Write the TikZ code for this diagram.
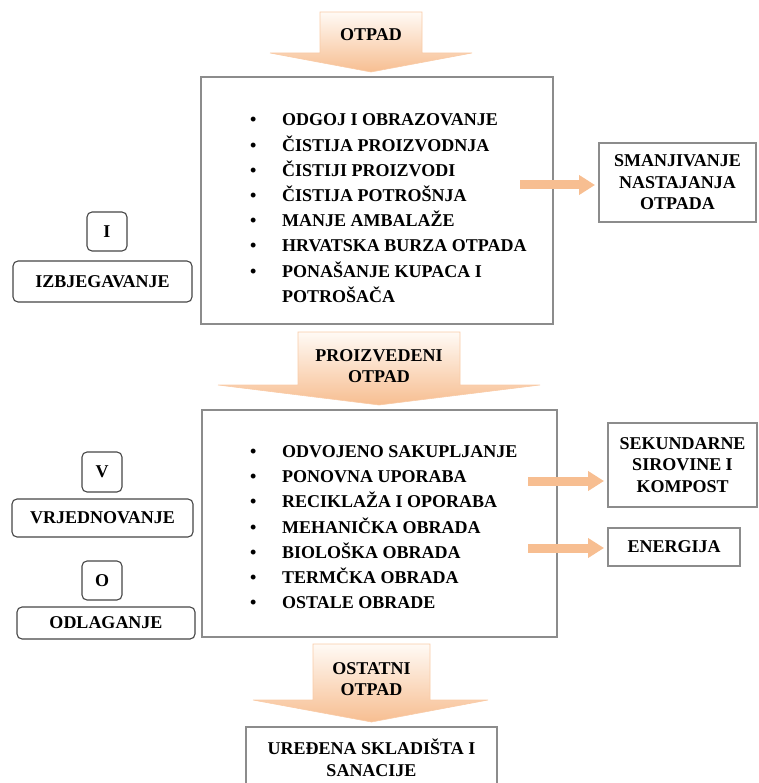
\documentclass[tikz,border=0pt]{standalone}
\usepackage{fontspec}
\setmainfont{Liberation Serif}
\usetikzlibrary{arrows.meta}

\definecolor{peach}{RGB}{247,190,145}
\definecolor{peachlight}{RGB}{255,250,245}
\definecolor{boxgray}{RGB}{140,140,140}
\definecolor{labelgray}{RGB}{70,70,70}

\tikzset{
  mainbox/.style={draw=boxgray, line width=2.2pt, fill=white, inner sep=0pt},
  sidebox/.style={draw=boxgray, line width=2pt, fill=white, align=center, inner sep=0pt},
  tagbox/.style={draw=labelgray, line width=1.1pt, rounded corners=5pt, inner sep=0pt, fill=white},
  callout/.style={top color=peachlight, bottom color=peach, draw=peach!80!white, line width=0.6pt},
  fatarrow/.style={draw=peach, line width=9pt, shorten >=3pt, -{Triangle[length=16pt,width=19pt]}},
  bulletlist/.style={anchor=west, align=left, inner sep=0pt, font=\fontsize{18}{25.2}\selectfont\bfseries},
}

\begin{document}
\begin{tikzpicture}[x=1pt,y=1pt,yscale=-1,xscale=1,
  every node/.append style={font=\fontsize{18}{21.5}\selectfont\bfseries}]
	\useasboundingbox (0,0) rectangle (758,783);
	% callouts
	\shade[callout] (320,12) -- (422,12) -- (422,53) -- (472,53) -- (371,72) -- (270,53) -- (320,53) -- cycle ;
	\node (otpad) at (371,35) {OTPAD};
	\shade[callout] (298,332) -- (460,332) -- (460,385) -- (540,385) -- (379,405) -- (218,385) -- (298,385) -- cycle ;
	\node[align=center] (proizv) at (379,366) {PROIZVEDENI\\OTPAD};
	\shade[callout] (313,644) -- (430,644) -- (430,700) -- (488,700) -- (371.5,722) -- (253,700) -- (313,700) -- cycle ;
	\node[align=center] (ostatni) at (371.5,679) {OSTATNI\\OTPAD};
	% main boxes
	\node[mainbox, minimum width=352pt, minimum height=247pt] (izbj) at (377,200.5) {};
	\node[bulletlist] (list1) at (250,209) {\begin{tabular}{@{}p{32pt}@{}l@{}}
		\textbullet & ODGOJ I OBRAZOVANJE\\
		\textbullet & ČISTIJA PROIZVODNJA\\
		\textbullet & ČISTIJI PROIZVODI\\
		\textbullet & ČISTIJA POTROŠNJA\\
		\textbullet & MANJE AMBALAŽE\\
		\textbullet & HRVATSKA BURZA OTPADA\\
		\textbullet & PONAŠANJE KUPACA I\\
		 & POTROŠAČA
	\end{tabular}};
	\node[mainbox, minimum width=355pt, minimum height=227pt] (vrjed) at (379.5,523.5) {};
	\node[bulletlist] (list2) at (250,528) {\begin{tabular}{@{}p{32pt}@{}l@{}}
		\textbullet & ODVOJENO SAKUPLJANJE\\
		\textbullet & PONOVNA UPORABA\\
		\textbullet & RECIKLAŽA I OPORABA\\
		\textbullet & MEHANIČKA OBRADA\\
		\textbullet & BIOLOŠKA OBRADA\\
		\textbullet & TERMČKA OBRADA\\
		\textbullet & OSTALE OBRADE
	\end{tabular}};
	% right boxes
	\node[sidebox, minimum width=157pt, minimum height=79pt] (smanj) at (677.5,182.5) {SMANJIVANJE\\NASTAJANJA\\OTPADA};
	\node[sidebox, minimum width=149pt, minimum height=84pt] (sekund) at (682.5,465) {SEKUNDARNE\\SIROVINE I\\KOMPOST};
	\node[sidebox, minimum width=132pt, minimum height=38pt] (energ) at (674,547) {ENERGIJA};
	\node[sidebox, minimum width=251pt, minimum height=62pt] (sklad) at (371.5,758) {UREĐENA SKLADIŠTA I\\SANACIJE};
	% arrows
	\coordinate (a1) at (520,185);
	\coordinate (a2) at (528,481);
	\coordinate (a3) at (528,548);
	\draw[fatarrow] (a1) -- (a1 -| smanj.west);
	\draw[fatarrow] (a2) -- (a2 -| sekund.west);
	\draw[fatarrow] (a3) -- (a3 -| energ.west);
	% left tags
	\node[tagbox, minimum width=40pt, minimum height=39pt] (tagI) at (107,231.5) {I};
	\node[tagbox, minimum width=179pt, minimum height=41pt] (izbjlabel) at (102.5,281.5) {IZBJEGAVANJE};
	\node[tagbox, minimum width=40pt, minimum height=40pt] (tagV) at (102,472) {V};
	\node[tagbox, minimum width=181pt, minimum height=38pt] (vrjedlabel) at (102.5,518) {VRJEDNOVANJE};
	\node[tagbox, minimum width=40pt, minimum height=39pt] (tagO) at (102,580.5) {O};
	\node[tagbox, minimum width=178pt, minimum height=32pt] (odlaglabel) at (106,623) {ODLAGANJE};
\end{tikzpicture}
\end{document}
